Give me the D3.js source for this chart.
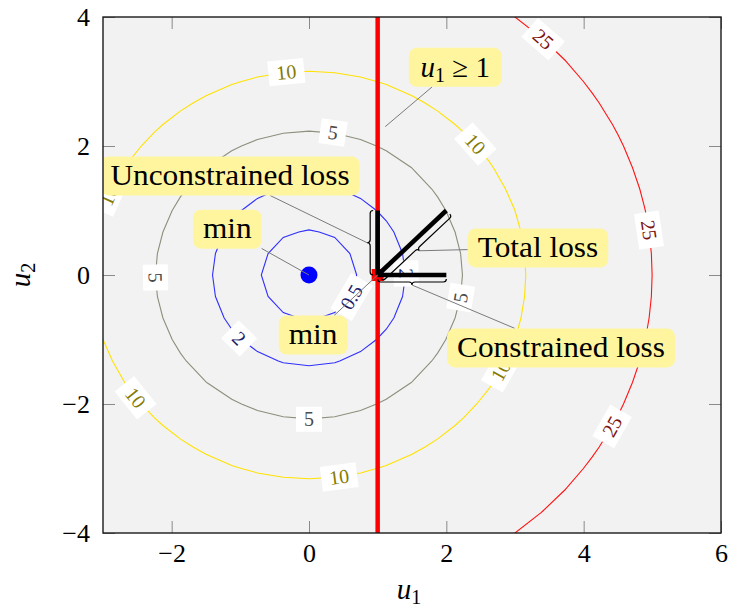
<!DOCTYPE html>
<html>
<head>
<meta charset="utf-8">
<script src="https://cdn.jsdelivr.net/npm/d3@7"></script>
<style>
  body { margin: 0; background: #fff; }
  text { font-family: "Liberation Serif", "Times New Roman", serif; }
</style>
</head>
<body>
<script>
const xDomain = [-3, 6];
const yDomain = [-4, 4];
const xTicks = [-2, 0, 2, 4, 6];
const yTicks = [-4, -2, 0, 2, 4];

// contour levels of the loss and their styles
const levels = [0.5, 2, 5, 10, 25];
const lineColors = ["#2f2fff", "#2f2fff", "#8e8e7c", "#ffe200", "#ff1414"];
const textColors = ["#1c1c6c", "#1c1c6c", "#4a4a4a", "#857a00", "#7d1212"];
// where the labels sit on each contour (angle in degrees)
const labelAngles = [[-29], [224, 1], [81, 181, 270, -9], [96, 40, -28, -82, 217, 157], [47, 8, -28]];

const minPoint = [0, 0];
const constrPoint = [1, 0];
const constraintX = 1;
const vectors = [[1, 0, 1, 1], [1, 0, 2, 0], [1, 0, 2, 1]];

const W = 730, H = 607;
const x = d3.scaleLinear().domain(xDomain).range([103, 721]);
const y = d3.scaleLinear().domain(yDomain).range([533, 17]);

const svg = d3.select("body").append("svg")
  .attr("width", W).attr("height", H);

svg.append("defs").append("clipPath").attr("id", "plotclip")
  .append("rect")
  .attr("x", x(xDomain[0])).attr("y", y(yDomain[1]))
  .attr("width", x(xDomain[1]) - x(xDomain[0]))
  .attr("height", y(yDomain[0]) - y(yDomain[1]));

svg.append("rect")
  .attr("x", x(xDomain[0])).attr("y", y(yDomain[1]))
  .attr("width", x(xDomain[1]) - x(xDomain[0]))
  .attr("height", y(yDomain[0]) - y(yDomain[1]))
  .attr("fill", "#f2f2f2");

const plot = svg.append("g").attr("clip-path", "url(#plotclip)");

// sampled grid (coarse, like the original) extended past the axes
const hx = 9 / 24, hy = 8 / 24;
const gx0 = -6, gy0 = -7, nx = 41, ny = 43;
const values = new Array(nx * ny);
for (let j = 0; j < ny; j++) {
  for (let i = 0; i < nx; i++) {
    const u1 = gx0 + i * hx, u2 = gy0 + j * hy;
    values[i + j * nx] = u1 * u1 + u2 * u2;
  }
}
const contours = d3.contours().size([nx, ny]).thresholds(levels)(values);
const proj = d3.geoTransform({
  point(px, py) {
    this.stream.point(x(gx0 + (px - 0.5) * hx), y(gy0 + (py - 0.5) * hy));
  }
});
const cpath = d3.geoPath(proj);

plot.selectAll("path.contour")
  .data(contours)
  .enter().append("path")
  .attr("class", "contour")
  .attr("d", cpath)
  .attr("fill", "none")
  .attr("stroke", (d, i) => lineColors[i])
  .attr("stroke-width", 1.1);

// contour labels
const labels = [];
levels.forEach((lv, i) => {
  labelAngles[i].forEach(a => labels.push({ level: lv, idx: i, angle: a }));
});

const lab = plot.selectAll("g.clabel")
  .data(labels)
  .enter().append("g")
  .attr("class", "clabel")
  .attr("transform", d => {
    const r = Math.sqrt(d.level), t = d.angle * Math.PI / 180;
    const px = x(r * Math.cos(t)), py = y(r * Math.sin(t));
    const dx = -Math.sin(t) * (x(1) - x(0));
    const dy = Math.cos(t) * (y(1) - y(0));
    let rot = Math.atan2(dy, dx) * 180 / Math.PI;
    if (rot > 90) rot -= 180;
    if (rot < -90) rot += 180;
    return `translate(${px},${py}) rotate(${rot})`;
  });

lab.append("rect").attr("fill", "#fff");
lab.append("text")
  .attr("text-anchor", "middle")
  .attr("dy", "0.34em")
  .attr("font-size", 20)
  .attr("fill", d => textColors[d.idx])
  .text(d => d.level);
lab.each(function() {
  const g = d3.select(this);
  const w = g.select("text").node().getComputedTextLength();
  g.select("rect")
    .attr("x", -(w + 16) / 2).attr("y", -12.5)
    .attr("width", w + 16).attr("height", 25);
});

// constraint u1 >= 1
plot.append("line")
  .attr("x1", x(constraintX)).attr("x2", x(constraintX))
  .attr("y1", y(yDomain[0])).attr("y2", y(yDomain[1]))
  .attr("stroke", "#ff0000").attr("stroke-width", 4.5);

plot.append("rect")
  .attr("x", x(constrPoint[0]) - 6).attr("y", y(constrPoint[1]) - 6)
  .attr("width", 12).attr("height", 12)
  .attr("fill", "#ff0000");

plot.selectAll("line.vec")
  .data(vectors)
  .enter().append("line")
  .attr("class", "vec")
  .attr("x1", d => x(d[0])).attr("y1", d => y(d[1]))
  .attr("x2", d => x(d[2])).attr("y2", d => y(d[3]))
  .attr("stroke", "#000").attr("stroke-width", 4.5);

plot.append("circle")
  .attr("cx", x(minPoint[0])).attr("cy", y(minPoint[1]))
  .attr("r", 8.5).attr("fill", "#0000ff");

// curly braces
function brace(p1, p2, off, amp, side) {
  const L = Math.hypot(p2[0] - p1[0], p2[1] - p1[1]);
  const t = [(p2[0] - p1[0]) / L, (p2[1] - p1[1]) / L];
  const n = [-t[1] * side, t[0] * side];
  const P = (u, v) => [p1[0] + t[0] * u + n[0] * (v + off), p1[1] + t[1] * u + n[1] * (v + off)];
  const h = amp, m = L / 2, s = P;
  const f = p => p[0].toFixed(2) + "," + p[1].toFixed(2);
  const d = `M${f(s(0, 0))} Q${f(s(0, h / 2))} ${f(s(h / 2, h / 2))} L${f(s(m - h / 2, h / 2))}` +
    ` Q${f(s(m, h / 2))} ${f(s(m, h))} Q${f(s(m, h / 2))} ${f(s(m + h / 2, h / 2))}` +
    ` L${f(s(L - h / 2, h / 2))} Q${f(s(L, h / 2))} ${f(s(L, 0))}`;
  return { d, tip: s(m, h) };
}

const braces = {
  vert: brace([x(1), y(0)], [x(1), y(1)], 4.5, 6, -1),
  horiz: brace([x(1), y(0)], [x(2), y(0)], 4, 6, 1),
  diag: brace([x(1), y(0)], [x(2), y(1)], 5, 6, 1)
};
Object.values(braces).forEach(b => {
  plot.append("path").attr("d", b.d)
    .attr("fill", "none").attr("stroke", "#000").attr("stroke-width", 1.2);
});

// annotation boxes with pins
const annotations = [
  { text: "u1>=1", cx: 2.13, cy: 3.22, target: [x(1.11), y(2.3)] },
  { text: "Unconstrained loss", cx: -1.15, cy: 1.535, target: braces.vert.tip },
  { text: "min", cx: -1.19, cy: 0.71, target: [x(minPoint[0]), y(minPoint[1])] },
  { text: "min", cx: 0.06, cy: -0.93, target: [x(constrPoint[0]), y(constrPoint[1])] },
  { text: "Total loss", cx: 3.335, cy: 0.42, target: braces.diag.tip },
  { text: "Constrained loss", cx: 3.67, cy: -1.13, target: braces.horiz.tip }
];

const ann = plot.selectAll("g.ann")
  .data(annotations)
  .enter().append("g")
  .attr("class", "ann");

ann.each(function(d) {
  const g = d3.select(this);
  const cx = x(d.cx), cy = y(d.cy);
  const pin = g.append("line").attr("stroke", "#7a7a7a").attr("stroke-width", 1);
  const box = g.append("rect").attr("fill", "#fff59e").attr("rx", 8);
  const t = g.append("text")
    .attr("x", cx).attr("y", cy).attr("dy", "0.32em")
    .attr("text-anchor", "middle")
    .attr("font-size", 29)
    .attr("fill", "#000");
  let w;
  if (d.text === "u1>=1") {
    t.append("tspan").attr("font-style", "italic").text("u");
    t.append("tspan").attr("font-size", 20).attr("dy", 5).text("1");
    t.append("tspan").attr("dy", -5).text(" \u2265 1");
    w = t.node().getComputedTextLength() * 1.05;
  } else {
    t.text(d.text);
    const w0 = t.node().getComputedTextLength();
    w = w0 * 1.08;
    t.attr("textLength", w).attr("lengthAdjust", "spacingAndGlyphs");
  }
  const bw = w + 20, bh = 39;
  box.attr("x", cx - bw / 2).attr("y", cy - bh / 2).attr("width", bw).attr("height", bh);
  const dx = d.target[0] - cx, dy = d.target[1] - cy;
  const k = Math.min((bw / 2) / Math.abs(dx || 1e-9), (bh / 2) / Math.abs(dy || 1e-9));
  pin.attr("x1", cx + dx * k).attr("y1", cy + dy * k)
    .attr("x2", d.target[0]).attr("y2", d.target[1]);
});

// axes: gray inner ticks on all sides
const tickLen = 12;
const styleAxis = g => {
  g.select(".domain").remove();
  g.selectAll(".tick line").attr("stroke", "#8a8a8a").attr("stroke-width", 1);
  g.selectAll(".tick text").attr("font-size", 26).attr("fill", "#000")
    .style("font-family", '"Liberation Serif", serif');
};

svg.append("g").attr("transform", `translate(0,${y(yDomain[0])})`)
  .call(d3.axisBottom(x).tickValues(xTicks).tickSize(-tickLen).tickPadding(0))
  .call(styleAxis)
  .call(g => g.selectAll(".tick text").attr("y", 29).attr("dy", 0));

svg.append("g").attr("transform", `translate(0,${y(yDomain[1])})`)
  .call(d3.axisTop(x).tickValues(xTicks).tickSize(-tickLen).tickFormat(""))
  .call(styleAxis);

svg.append("g").attr("transform", `translate(${x(xDomain[0])},0)`)
  .call(d3.axisLeft(y).tickValues(yTicks).tickSize(-tickLen))
  .call(styleAxis)
  .call(g => g.selectAll(".tick text").attr("x", -13).attr("dy", "0.34em"));

svg.append("g").attr("transform", `translate(${x(xDomain[1])},0)`)
  .call(d3.axisRight(y).tickValues(yTicks).tickSize(-tickLen).tickFormat(""))
  .call(styleAxis);

svg.append("rect")
  .attr("x", x(xDomain[0])).attr("y", y(yDomain[1]))
  .attr("width", x(xDomain[1]) - x(xDomain[0]))
  .attr("height", y(yDomain[0]) - y(yDomain[1]))
  .attr("fill", "none").attr("stroke", "#1a1a1a").attr("stroke-width", 1.4);

// axis titles
const xl = svg.append("text")
  .attr("x", 409).attr("y", 599)
  .attr("text-anchor", "middle").attr("font-size", 29);
xl.append("tspan").attr("font-style", "italic").text("u");
xl.append("tspan").attr("font-size", 20).attr("dy", 5).text("1");

const yl = svg.append("text")
  .attr("transform", "translate(30,275) rotate(-90)")
  .attr("text-anchor", "middle").attr("font-size", 29);
yl.append("tspan").attr("font-style", "italic").text("u");
yl.append("tspan").attr("font-size", 20).attr("dy", 5).text("2");
</script>
</body>
</html>
